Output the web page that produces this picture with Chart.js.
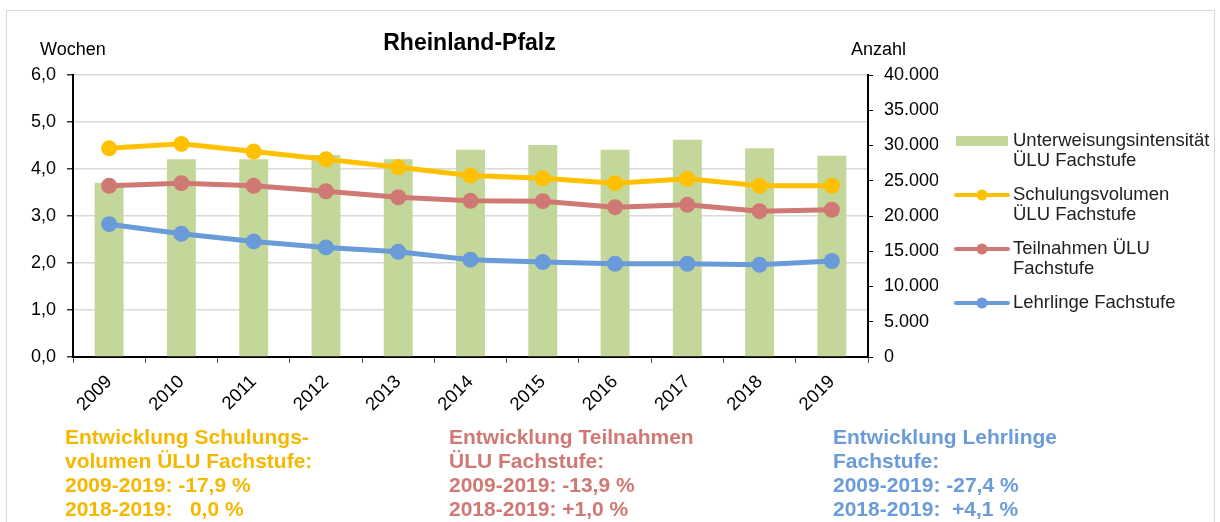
<!DOCTYPE html>
<html lang="de">
<head>
<meta charset="utf-8">
<title>Rheinland-Pfalz</title>
<script src="https://cdn.jsdelivr.net/npm/chart.js@4.4.1/dist/chart.umd.min.js"></script>
<style>
  html, body { margin: 0; padding: 0; background: #fff; }
  body { width: 1220px; height: 522px; position: relative; overflow: hidden; font-family: "Liberation Sans", Arial, sans-serif; }
  #frame { position: absolute; left: 6px; top: 10px; width: 1207px; height: 540px; border: 1px solid #d9d9d9; border-bottom: none; }
  #wrap { position: absolute; left: 0; top: 0; width: 1220px; height: 522px; }
  .note { position: absolute; top: 425px; font-weight: bold; font-size: 21px; line-height: 24px; white-space: pre; }
</style>
</head>
<body>
<div id="frame"></div>
<div id="wrap"><canvas id="chartRP" width="1220" height="522"></canvas></div>

<div class="note" style="left:65px; color:#f5b800;">Entwicklung Schulungs-
volumen ÜLU Fachstufe:
2009-2019: -17,9 %
2018-2019:   0,0 %</div>
<div class="note" style="left:449px; color:#d07873;">Entwicklung Teilnahmen
ÜLU Fachstufe:
2009-2019: -13,9 %
2018-2019: +1,0 %</div>
<div class="note" style="left:833px; color:#6b9bd8;">Entwicklung Lehrlinge
Fachstufe:
2009-2019: -27,4 %
2018-2019:  +4,1 %</div>

<script>
// Daten Rheinland-Pfalz (ÜLU Fachstufe)
const jahre = ['2009', '2010', '2011', '2012', '2013', '2014', '2015', '2016', '2017', '2018', '2019'];
// Wochen (linke Achse)
const unterweisungsintensitaet = [3.71, 4.21, 4.21, 4.30, 4.21, 4.41, 4.51, 4.41, 4.62, 4.44, 4.28];
// Anzahl (rechte Achse)
const schulungsvolumen = [29600, 30230, 29140, 28050, 26910, 25740, 25350, 24650, 25270, 24290, 24290];
const teilnahmen = [24280, 24650, 24280, 23510, 22660, 22150, 22100, 21250, 21590, 20680, 20890];
const lehrlinge = [18840, 17480, 16390, 15540, 14930, 13800, 13460, 13230, 13230, 13080, 13620];

const legendLabels = [
    ['Unterweisungsintensität', 'ÜLU Fachstufe'],
    ['Schulungsvolumen', 'ÜLU Fachstufe'],
    ['Teilnahmen ÜLU', 'Fachstufe'],
    ['Lehrlinge Fachstufe']
];

Chart.defaults.font.family = '"Liberation Sans", Arial, sans-serif';
Chart.defaults.font.size = 18;
Chart.defaults.color = '#000';

// Titel, Achsennamen und Legende direkt auf das Canvas
const extras = {
    id: 'extras',
    afterDraw(chart) {
        const ctx = chart.ctx;
        const area = chart.chartArea;
        ctx.save();
        ctx.fillStyle = '#000';
        ctx.textBaseline = 'middle';
        ctx.font = 'bold 23px "Liberation Sans", Arial, sans-serif';
        ctx.textAlign = 'center';
        ctx.fillText('Rheinland-Pfalz', (area.left + area.right) / 2 - 1, 44);
        ctx.font = '18px "Liberation Sans", Arial, sans-serif';
        ctx.textAlign = 'left';
        ctx.fillText('Wochen', 40, 50);
        ctx.fillText('Anzahl', 851, 50);

        // Legende
        const x0 = 956, x1 = 1008, tx = 1013;
        const rows = [141, 195, 249, 303];
        ctx.font = '18.5px "Liberation Sans", Arial, sans-serif';
        chart.data.datasets.forEach(function(ds, i) {
            const y = rows[i];
            if (ds.type === 'bar') {
                ctx.fillStyle = ds.backgroundColor;
                ctx.fillRect(x0, y - 5, x1 - x0, 10);
            } else {
                ctx.strokeStyle = ds.borderColor;
                ctx.lineWidth = 4;
                ctx.lineCap = 'round';
                ctx.beginPath();
                ctx.moveTo(x0, y);
                ctx.lineTo(x1, y);
                ctx.stroke();
                ctx.fillStyle = ds.borderColor;
                ctx.beginPath();
                ctx.arc((x0 + x1) / 2, y, 5.5, 0, Math.PI * 2);
                ctx.fill();
            }
            ctx.fillStyle = '#222';
            legendLabels[i].forEach(function(line, j) {
                ctx.fillText(line, tx, y + j * 20);
            });
        });
        ctx.restore();
    }
};

// gemeinsame Einstellungen der Linien
function lineSet(label, values, color, order) {
    return {
        type: 'line',
        label: label,
        data: values,
        borderColor: color,
        backgroundColor: color,
        borderWidth: 5,
        pointRadius: 8,
        pointHoverRadius: 8,
        pointBorderWidth: 0,
        tension: 0,
        yAxisID: 'y1',
        order: order
    };
}

const ctx = document.getElementById('chartRP').getContext('2d');
const myChart = new Chart(ctx, {
    type: 'bar',
    data: {
        labels: jahre,
        datasets: [{
            type: 'bar',
            label: 'Unterweisungsintensität ÜLU Fachstufe',
            data: unterweisungsintensitaet,
            backgroundColor: '#c4d79b',
            barPercentage: 0.4,
            categoryPercentage: 1.0,
            yAxisID: 'y',
            order: 4
        },
        lineSet('Schulungsvolumen ÜLU Fachstufe', schulungsvolumen, '#ffc000', 1),
        lineSet('Teilnahmen ÜLU Fachstufe', teilnahmen, '#d07873', 2),
        lineSet('Lehrlinge Fachstufe', lehrlinge, '#6a9bd9', 3)]
    },
    options: {
        responsive: false,
        animation: false,
        layout: {
            padding: { left: 0, top: 75, right: 282, bottom: 0 }
        },
        plugins: {
            legend: { display: false },
            title: { display: false },
            tooltip: { enabled: false }
        },
        scales: {
            x: {
                afterFit: function(scale) { scale.height = 165; },
                grid: {
                    offset: true,
                    drawOnChartArea: false,
                    tickLength: 6,
                    tickColor: '#555'
                },
                border: { color: '#000', width: 2 },
                ticks: {
                    minRotation: 45,
                    maxRotation: 45,
                    padding: 8,
                    font: { size: 18.5 }
                }
            },
            y: {
                position: 'left',
                min: 0,
                max: 6,
                afterFit: function(scale) { scale.width = 73; },
                grid: {
                    color: '#d9d9d9',
                    lineWidth: 1.5,
                    tickLength: 6,
                    tickColor: '#333'
                },
                border: { color: '#000', width: 2 },
                ticks: {
                    stepSize: 1,
                    padding: 11,
                    callback: function(v) { return v.toFixed(1).replace('.', ','); }
                }
            },
            y1: {
                position: 'right',
                min: 0,
                max: 40000,
                afterFit: function(scale) { scale.width = 70; },
                grid: {
                    drawOnChartArea: false,
                    tickLength: 5,
                    tickColor: '#000'
                },
                border: { color: '#000', width: 2 },
                ticks: {
                    stepSize: 5000,
                    padding: 11,
                    callback: function(v) { return v.toLocaleString('de-DE'); }
                }
            }
        }
    },
    plugins: [extras]
});
</script>
</body>
</html>
